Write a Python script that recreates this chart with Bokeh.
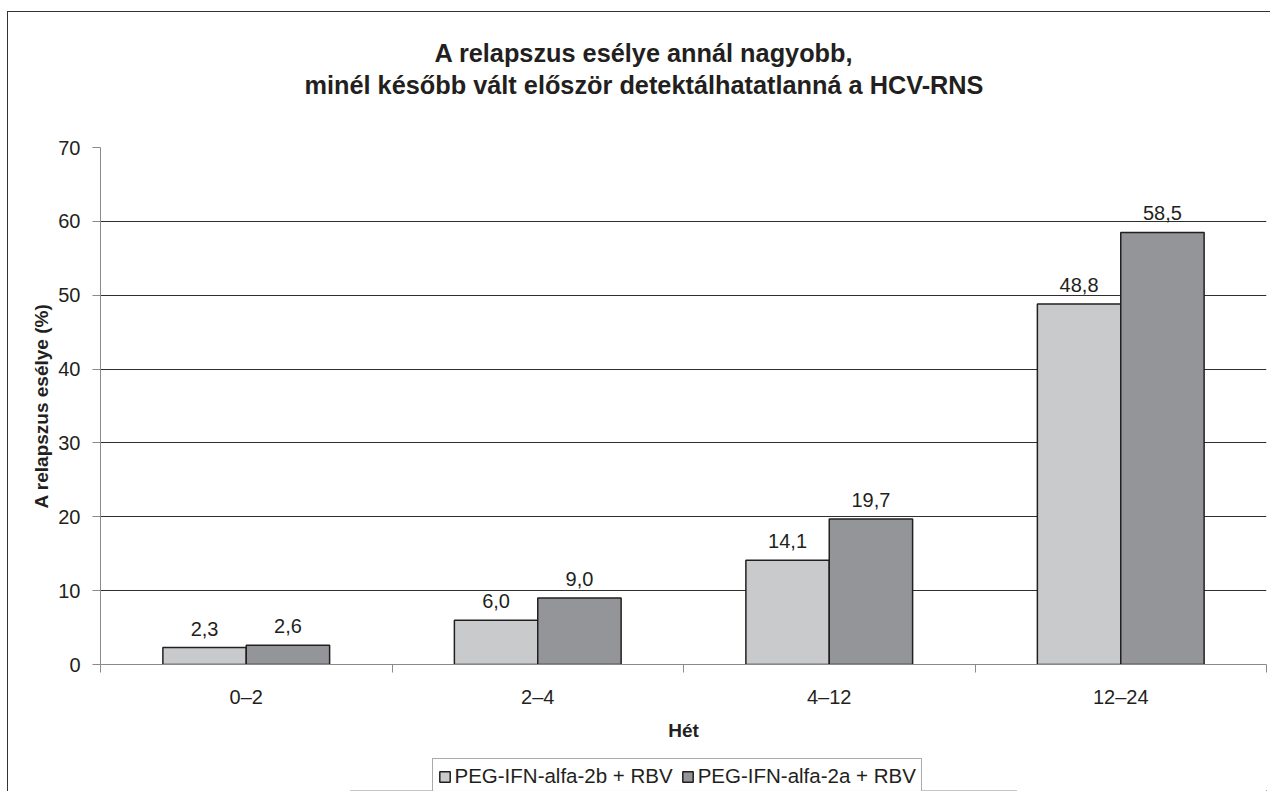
from bokeh.plotting import figure
from bokeh.layouts import column
from bokeh.models import (ColumnDataSource, LabelSet, Label, Legend, LegendItem,
                          FixedTicker, Range1d)
from bokeh.core.properties import value
from bokeh.embed import file_html
from bokeh.resources import INLINE

categories = ["0–2", "2–4", "4–12", "12–24"]
series_names = ["PEG-IFN-alfa-2b + RBV", "PEG-IFN-alfa-2a + RBV"]
values_2b = [2.3, 6.0, 14.1, 48.8]
values_2a = [2.6, 9.0, 19.7, 58.5]
y_ticks = [0, 10, 20, 30, 40, 50, 60, 70]
title_lines = ["A relapszus esélye annál nagyobb,",
               "minél később vált először detektálhatatlanná a HCV-RNS"]
y_label = "A relapszus esélye (%)"
x_label = "Hét"

FONT = "Liberation Sans"
INK = "#231f20"
LIGHT = "#c9cacc"
DARK = "#939598"
BAR_W = 0.286
W = 1262
FRAME_LEFT = 92  # frames of the stacked figures are aligned to the chart's frame


def bare(fig):
    fig.outline_line_color = None
    fig.xgrid.visible = False
    fig.ygrid.visible = False
    fig.background_fill_color = "white"
    fig.border_fill_color = "white"
    return fig


centers = [i + 0.5 for i in range(len(categories))]
x_2b = [c - BAR_W / 2 for c in centers]
x_2a = [c + BAR_W / 2 for c in centers]


def fmt(v):
    return f"{v:.1f}".replace(".", ",")


src_2b = ColumnDataSource(dict(x=x_2b, top=values_2b, lab=[fmt(v) for v in values_2b]))
src_2a = ColumnDataSource(dict(x=x_2a, top=values_2a, lab=[fmt(v) for v in values_2a]))

# ---------- title strip ----------
TH = 120
tfig = bare(figure(width=W, height=TH, x_range=Range1d(0, 1), y_range=Range1d(0, 1),
                   output_backend="svg", toolbar_location=None,
                   x_axis_location=None, y_axis_location=None,
                   min_border=0))
for txt, base in zip(title_lines, (40.5, 72)):
    tfig.add_layout(Label(x=644 - 8.5 - FRAME_LEFT, y=TH - base, x_units="screen",
                          y_units="screen", text=txt, text_align="center",
                          text_baseline="alphabetic", text_font=FONT,
                          text_font_style="bold", text_font_size="25.3px",
                          text_color=INK))

# ---------- main chart ----------
p = figure(width=W, height=623, x_range=Range1d(0, len(categories)),
           y_range=Range1d(0, 70), output_backend="svg", toolbar_location=None,
           min_border_left=FRAME_LEFT, min_border_right=4, min_border_top=15,
           min_border_bottom=91)
p.outline_line_color = None
p.background_fill_color = "white"
p.border_fill_color = "white"

p.xgrid.visible = False
p.ygrid.ticker = FixedTicker(ticks=y_ticks[1:])
p.ygrid.grid_line_color = "#2e2e2e"
p.ygrid.grid_line_width = 1

p.vbar(x="x", top="top", width=BAR_W, source=src_2b, fill_color=LIGHT,
       line_color=INK, line_width=1.5)
p.vbar(x="x", top="top", width=BAR_W, source=src_2a, fill_color=DARK,
       line_color=INK, line_width=1.5)

for src in (src_2b, src_2a):
    p.add_layout(LabelSet(x="x", y="top", text="lab", source=src, text_align="center",
                          text_baseline="bottom", y_offset=12, text_font=value(FONT),
                          text_font_size=value("20px"), text_color=INK,
                          background_fill_color="white"))

p.yaxis.ticker = FixedTicker(ticks=y_ticks)
p.yaxis.axis_line_color = "#8a8a8a"
p.yaxis.major_tick_line_color = "#8a8a8a"
p.yaxis.major_tick_out = 8
p.yaxis.major_tick_in = 0
p.yaxis.minor_tick_line_color = None
p.yaxis.major_label_text_font = FONT
p.yaxis.major_label_text_font_size = "20px"
p.yaxis.major_label_text_color = INK
p.yaxis.major_label_standoff = 12
p.yaxis.axis_label = y_label
p.yaxis.axis_label_text_font = FONT
p.yaxis.axis_label_text_font_style = "bold"
p.yaxis.axis_label_text_font_size = "19px"
p.yaxis.axis_label_text_color = INK
p.yaxis.axis_label_standoff = 3

p.xaxis.ticker = FixedTicker(ticks=centers, minor_ticks=list(range(len(categories) + 1)))
p.xaxis.major_label_overrides = {c: cat for c, cat in zip(centers, categories)}
p.xaxis.axis_line_color = "#8a8a8a"
p.xaxis.major_tick_line_color = None
p.xaxis.major_tick_out = 0
p.xaxis.major_tick_in = 0
p.xaxis.minor_tick_line_color = "#8a8a8a"
p.xaxis.minor_tick_out = 8
p.xaxis.minor_tick_in = 0
p.xaxis.major_label_text_font = FONT
p.xaxis.major_label_text_font_size = "20px"
p.xaxis.major_label_text_color = INK
p.xaxis.major_label_standoff = 13
p.xaxis.axis_label = x_label
p.xaxis.axis_label_text_font = FONT
p.xaxis.axis_label_text_font_style = "bold"
p.xaxis.axis_label_text_font_size = "19px"
p.xaxis.axis_label_text_color = INK
p.xaxis.axis_label_standoff = 9

# ---------- legend strip ----------
LH = 36
lfig = bare(figure(width=W, height=LH, x_range=Range1d(0, 1), y_range=Range1d(100, 101),
                   output_backend="svg", toolbar_location=None,
                   x_axis_location=None, y_axis_location=None,
                   min_border=0))
# same series, drawn outside this strip's visible range: only their legend swatches show
g1 = lfig.vbar(x="x", top="top", width=BAR_W, source=src_2b,
               fill_color=LIGHT, line_color=INK, line_width=1.5)
g2 = lfig.vbar(x="x", top="top", width=BAR_W, source=src_2a,
               fill_color=DARK, line_color=INK, line_width=1.5)
legend = Legend(items=[LegendItem(label=series_names[0], renderers=[g1]),
                       LegendItem(label=series_names[1], renderers=[g2])],
                orientation="horizontal", location=(432 - 8.5 - FRAME_LEFT, -3))
legend.border_line_color = "#555555"
legend.border_line_width = 1
legend.padding = 5
legend.spacing = 8
legend.margin = 0
legend.label_standoff = 4
legend.glyph_width = 13
legend.glyph_height = 13
legend.label_text_font = FONT
legend.label_text_font_size = "20.5px"
legend.label_text_color = INK
legend.background_fill_color = "white"
lfig.add_layout(legend, "center")

layout = column(tfig, p, lfig, spacing=0,
                styles={"margin-left": "7px", "margin-top": "11px",
                        "border-left": "1.5px solid #333333",
                        "border-top": "1.5px solid #333333"})

open("out.html", "w").write(file_html(layout, INLINE))
